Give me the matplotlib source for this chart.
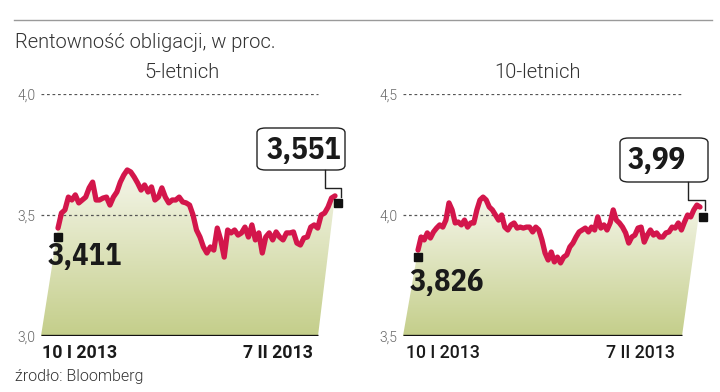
import numpy as np
import matplotlib
matplotlib.use("Agg")
import matplotlib.pyplot as plt
from matplotlib.patches import Polygon, FancyBboxPatch
from matplotlib.lines import Line2D
from matplotlib.colors import LinearSegmentedColormap

# --- data ---
yield_5y = [3.446, 3.508, 3.521, 3.574, 3.562, 3.583, 3.550, 3.562, 3.574, 3.612,
            3.636, 3.562, 3.562, 3.570, 3.574, 3.541, 3.574, 3.595, 3.636, 3.665,
            3.686, 3.678, 3.657, 3.632, 3.603, 3.624, 3.595, 3.616, 3.562, 3.574,
            3.612, 3.574, 3.550, 3.562, 3.562, 3.574, 3.554, 3.550, 3.541, 3.500,
            3.438, 3.409, 3.368, 3.343, 3.368, 3.355, 3.446, 3.397, 3.326, 3.438,
            3.426, 3.438, 3.417, 3.426, 3.450, 3.409, 3.459, 3.397, 3.426, 3.343,
            3.409, 3.426, 3.397, 3.430, 3.409, 3.397, 3.426, 3.426, 3.430, 3.384,
            3.376, 3.405, 3.409, 3.450, 3.459, 3.446, 3.500, 3.508, 3.533, 3.570,
            3.579]
yield_10y = [3.855, 3.909, 3.897, 3.926, 3.905, 3.930, 3.946, 3.959, 3.950, 3.979,
             4.050, 4.021, 3.967, 3.971, 3.959, 3.979, 3.950, 3.967, 3.967, 4.021,
             4.062, 4.074, 4.062, 4.033, 4.021, 4.000, 3.979, 4.000, 3.950, 3.938,
             3.959, 3.967, 3.946, 3.950, 3.946, 3.950, 3.950, 3.930, 3.950, 3.938,
             3.897, 3.843, 3.814, 3.847, 3.806, 3.826, 3.802, 3.826, 3.835, 3.868,
             3.884, 3.909, 3.930, 3.938, 3.946, 3.930, 3.950, 3.938, 3.992, 3.946,
             3.959, 3.938, 3.967, 4.021, 3.979, 3.967, 3.950, 3.926, 3.884, 3.909,
             3.917, 3.946, 3.950, 3.888, 3.917, 3.938, 3.917, 3.926, 3.909, 3.909,
             3.926, 3.930, 3.950, 3.946, 3.967, 3.938, 3.971, 4.000, 3.992, 4.021,
             4.041, 4.033]
start_labels = ["3,411", "3,826"]
start_values = [3.411, 3.826]
end_labels = ["3,551", "3,99"]
end_values = [3.551, 3.99]
panel_titles = ["5-letnich", "10-letnich"]
y_ticks = [[3.0, 3.5, 4.0], [3.5, 4.0, 4.5]]
date_labels = ["10 I 2013", "7 II 2013"]

W, H = 720, 392
RED = "#d3164b"
BIG = ["IBM Plex Sans Condensed", "DejaVu Sans"]
ROBO = ["Roboto", "DejaVu Sans"]

fig = plt.figure(figsize=(W / 100, H / 100), dpi=100)


def fx(x):
    return x / W


def fy(y):
    return 1 - y / H


# top rule and headings
fig.add_artist(Line2D([fx(14), fx(712)], [fy(20), fy(20)], color="#9a9a9a", lw=1))
fig.text(fx(15), fy(43), "Rentowność obligacji, w proc.", fontsize=14.5, family=ROBO,
         fontweight=300, color="#333333", va="center")
fig.text(fx(15), fy(377), "źrodło: Bloomberg", fontsize=11.5, family=ROBO,
         fontweight=300, color="#333333", va="center")

cmap = LinearSegmentedColormap.from_list("fill", ["#c4ce8a", "#f5f6ea"])

# per panel layout: grid left/right px, line start/end px, title centre, label spots
panels = [
    dict(gl=41, gr=318, ls=58, le=335, tc=182, title_y=73,
         sl=(48, 257), box=(257, 128, 88, 42), tx=267, leader=(325, 341, 188, 197),
         d1=42, d2=313, dweight="bold"),
    dict(gl=403, gr=682, ls=418, le=700, tc=537, title_y=73,
         sl=(410, 282), box=(620, 138, 88, 44), tx=628, leader=(688, 705, 200, 210),
         d1=406, d2=675, dweight="medium"),
]
series = [yield_5y, yield_10y]

for k, p in enumerate(panels):
    vals = np.array(series[k])
    n = len(vals)
    idx = np.arange(n)
    sc = (p["le"] - p["ls"]) / (n - 1)
    x0 = -(p["ls"] - p["gl"]) / sc
    xg = (p["gr"] - p["ls"]) / sc
    xr = (p["le"] + 12 - p["ls"]) / sc
    lo, mid, hi = y_ticks[k]

    ax = fig.add_axes([fx(p["gl"]), fy(336), fx(p["le"] + 12 - p["gl"]), (336 - 94) / H])
    ax.set_xlim(x0, xr)
    ax.set_ylim(lo, hi)
    for s in ax.spines.values():
        s.set_visible(False)
    ax.set_xticks([])
    ax.set_yticks(y_ticks[k], [f"{t:.1f}".replace(".", ",") for t in y_ticks[k]])
    ax.tick_params(axis="y", length=0, pad=4, labelsize=10, labelcolor="#666666")
    for t in ax.get_yticklabels():
        t.set_family(ROBO)
        t.set_fontweight(300)

    # gradient area with slanted sides
    verts = list(zip(idx, vals)) + [(xg, lo), (x0, lo)]
    poly = Polygon(verts, closed=True, facecolor="none", edgecolor="none")
    ax.add_patch(poly)
    grad = np.linspace(0, 1, 256).reshape(-1, 1)
    im = ax.imshow(grad, cmap=cmap, origin="lower", aspect="auto",
                   extent=[x0, xr, lo, vals.max()], zorder=1)
    im.set_clip_path(poly)

    # grid and baseline
    ax.hlines([mid, hi], x0, xg, colors="#555555", lw=0.9, linestyles=(0, (2.2, 2.2)), zorder=2)
    ax.hlines(lo, x0, xg, colors="#111111", lw=2.4, zorder=4)

    ax.plot(idx, vals, color=RED, lw=3.8, solid_joinstyle="round", solid_capstyle="round",
            zorder=3, clip_on=False)
    ax.plot([0], [start_values[k]], "s", color="#111111", ms=5.5, zorder=5, clip_on=False)
    ax.plot([n], [end_values[k]], "s", color="#111111", ms=5.5, zorder=5, clip_on=False)
    ax.set_xlim(x0, xr)

    # title, dates
    fig.text(fx(p["tc"]), fy(p["title_y"]), panel_titles[k], fontsize=14.5, family=ROBO,
             fontweight=300, color="#333333", ha="center", va="center")
    fig.text(fx(p["d1"]), fy(353), date_labels[0], fontsize=12.8, family=ROBO,
             fontweight=p["dweight"], color="#1a1a1a", ha="left", va="center")
    fig.text(fx(p["d2"]), fy(353), date_labels[1], fontsize=12.8, family=ROBO,
             fontweight=p["dweight"], color="#1a1a1a", ha="right", va="center")

    # start value label
    fig.text(fx(p["sl"][0]), fy(p["sl"][1]), start_labels[k], fontsize=22, family=BIG,
             fontweight="bold", color="#1a1a1a", ha="left", va="center")

    # end value callout
    bx, by, bw, bh = p["box"]
    fig.add_artist(FancyBboxPatch((fx(bx), fy(by + bh)), fx(bw), bh / H,
                                  boxstyle="round,pad=0,rounding_size=0.012",
                                  facecolor="white", edgecolor="#222222", lw=1.0,
                                  transform=fig.transFigure))
    fig.text(fx(p["tx"]), fy(by + bh / 2 + 1), end_labels[k], fontsize=22, family=BIG,
             fontweight="bold", color="#1a1a1a", ha="left", va="center")
    lx1, lx2, ly1, ly2 = p["leader"]
    fig.add_artist(Line2D([fx(lx1), fx(lx1), fx(lx2), fx(lx2)],
                          [fy(by + bh), fy(ly1), fy(ly1), fy(ly2)],
                          color="#222222", lw=1.0))

fig.savefig("out.png", dpi=100, facecolor="white")
